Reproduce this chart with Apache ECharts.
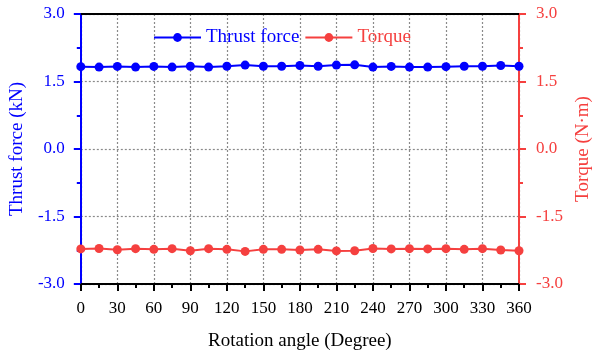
<!DOCTYPE html>
<html>
<head>
<meta charset="utf-8">
<script src="https://cdn.jsdelivr.net/npm/echarts@6/dist/echarts.min.js"></script>
<style>html,body{margin:0;padding:0;background:#fff}#c{width:602px;height:356px}</style>
</head>
<body>
<div id="c"></div>
<script>
const angles = [0,15,30,45,60,75,90,105,120,135,150,165,180,195,210,225,240,255,270,285,300,315,330,345,360];
const thrust = [1.83,1.82,1.835,1.82,1.835,1.82,1.84,1.82,1.84,1.865,1.84,1.84,1.855,1.84,1.865,1.87,1.82,1.835,1.82,1.82,1.83,1.84,1.84,1.855,1.84];
const torque = [-2.22,-2.21,-2.24,-2.215,-2.23,-2.215,-2.26,-2.215,-2.23,-2.275,-2.23,-2.23,-2.245,-2.23,-2.265,-2.26,-2.21,-2.22,-2.215,-2.22,-2.215,-2.23,-2.215,-2.245,-2.26];
const xTicks = [0,30,60,90,120,150,180,210,240,270,300,330,360];
const yTicks = [-3.0,-1.5,0.0,1.5,3.0];

const BLUE = '#0000FF';
const RED = '#F5403F';
const FONT = 'Liberation Serif';

const chart = echarts.init(document.getElementById('c'), null, {renderer:'canvas'});
const gridLine = {show:true, lineStyle:{color:'#8a8a8a', type:[2,2], width:1.2}};
chart.setOption({
  animation:false,
  backgroundColor:'#fff',
  textStyle:{fontFamily:FONT},
  grid:{left:80, right:83, top:14, bottom:69, containLabel:false},
  legend:{
    left:148, top:23, itemWidth:47, itemHeight:11, itemGap:5,
    textStyle:{fontFamily:FONT, fontSize:19},
    data:[
      {name:'Thrust force', textStyle:{color:BLUE}},
      {name:'Torque', textStyle:{color:RED}}
    ]
  },
  xAxis:[{
    type:'value', min:0, max:360, interval:30,
    name:'Rotation angle (Degree)', nameLocation:'middle', nameGap:48,
    nameTextStyle:{fontFamily:FONT, fontSize:19, color:'#000'},
    axisLine:{show:true, onZero:false, lineStyle:{color:'#000', width:2}},
    axisTick:{show:true, inside:false, length:7, lineStyle:{color:'#000', width:2}},
    minorTick:{show:true, splitNumber:2, length:4, lineStyle:{color:'#000', width:2}},
    axisLabel:{fontFamily:FONT, fontSize:17, color:'#000', margin:16,
      formatter:v=> xTicks.includes(v) ? String(v) : ''},
    splitLine:gridLine
  },{
    type:'value', min:0, max:360, position:'top',
    axisLine:{show:true, onZero:false, lineStyle:{color:'#000', width:2}},
    axisTick:{show:false}, axisLabel:{show:false}, splitLine:{show:false}
  }],
  yAxis:[{
    type:'value', min:-3, max:3, interval:1.5, position:'left',
    name:'Thrust force (kN)', nameLocation:'middle', nameGap:49, nameRotate:90,
    nameTextStyle:{fontFamily:FONT, fontSize:19, color:BLUE},
    axisLine:{show:true, onZero:false, lineStyle:{color:BLUE, width:2}},
    axisTick:{show:true, inside:false, length:7, lineStyle:{color:BLUE, width:2}},
    minorTick:{show:true, splitNumber:2, length:4, lineStyle:{color:BLUE, width:2}},
    axisLabel:{fontFamily:FONT, fontSize:17, color:BLUE, margin:16,
      formatter:v=> yTicks.includes(v) ? v.toFixed(1) : ''},
    splitLine:gridLine
  },{
    type:'value', min:-3, max:3, interval:1.5, position:'right',
    name:'Torque (N·m)', nameLocation:'middle', nameGap:53, nameRotate:90,
    nameTextStyle:{fontFamily:FONT, fontSize:19, color:RED},
    axisLine:{show:true, onZero:false, lineStyle:{color:RED, width:2}},
    axisTick:{show:true, inside:false, length:7, lineStyle:{color:RED, width:2}},
    minorTick:{show:true, splitNumber:2, length:4, lineStyle:{color:RED, width:2}},
    axisLabel:{fontFamily:FONT, fontSize:17, color:RED, margin:17,
      formatter:v=> yTicks.includes(v) ? v.toFixed(1) : ''},
    splitLine:{show:false}
  }],
  series:[{
    name:'Thrust force', type:'line', yAxisIndex:0,
    data:angles.map((a,i)=>[a,thrust[i]]),
    symbol:'circle', symbolSize:9,
    itemStyle:{color:BLUE}, lineStyle:{color:BLUE, width:2}
  },{
    name:'Torque', type:'line', yAxisIndex:1,
    data:angles.map((a,i)=>[a,torque[i]]),
    symbol:'circle', symbolSize:9,
    itemStyle:{color:RED}, lineStyle:{color:RED, width:2}
  }]
});
</script>
</body>
</html>
